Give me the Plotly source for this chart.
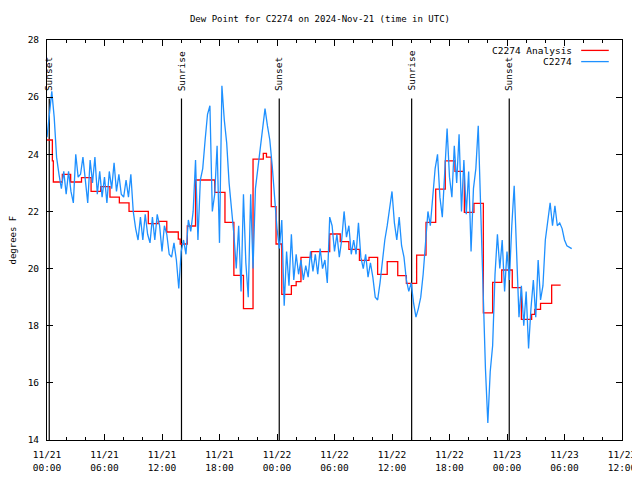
import pandas as pd
import plotly.graph_objects as go

title_text = "Dew Point for C2274 on 2024-Nov-21 (time in UTC)"
start = pd.Timestamp("2024-11-21 00:00")

blue_vals = [
    24.6, 25.5, 26.2, 25.3,  23.9, 23.3, 22.8, 23.4,  22.6, 23.4, 22.7, 22.3,
    24.0, 23.2, 23.3, 23.9,  23.0, 22.3, 23.8, 23.0,  23.9, 22.6, 23.4, 22.5,
    23.2, 22.3, 23.4, 22.8,  23.7, 22.7, 23.3, 22.6,  22.5, 23.1, 22.5, 23.3,
    22.0, 21.4, 21.0, 21.8,  21.0, 21.9, 21.2, 20.9,  21.8, 21.0, 21.9, 21.5,
    20.6, 21.5, 21.2, 20.5,  20.4, 20.9, 20.3, 19.3,  20.6, 21.0, 20.5, 21.7,
    21.3, 22.0, 23.8, 21.0,  23.1, 23.5, 24.5, 25.4,  25.7, 22.0, 22.6, 24.3,
    20.9, 26.4, 25.2, 24.4,  23.0, 22.2, 21.2, 20.0,  21.5, 19.2, 22.6, 20.2,
    19.0, 22.6, 20.0, 22.8,  23.5, 24.2, 24.9, 25.6,  25.0, 24.5, 23.6, 22.4,
    21.4, 20.7, 21.7, 18.7,  20.6, 19.4, 21.2, 19.6,  20.5, 19.8, 20.3, 19.6,
    20.1, 19.7, 20.6, 19.9,  20.5, 19.8, 20.7, 20.0,  20.3, 19.5, 21.8, 21.5,
    20.6, 21.2, 20.4, 21.0,  22.0, 21.1, 21.5, 20.5,  21.0, 20.5, 21.6, 20.4,
    20.0, 20.5, 19.7, 20.2,  19.7, 19.0, 18.9, 19.5,  20.3, 21.0, 21.5, 22.2,
    22.7, 21.6, 21.0, 21.8,  20.8, 20.4, 19.6, 19.2,  19.5, 18.8, 18.3, 18.6,
    19.0, 19.8, 21.0, 22.0,  21.5, 22.6, 23.5, 24.0,  22.5, 21.8, 23.5, 24.9,
    23.2, 22.5, 24.3, 23.0,  24.7, 22.0, 23.8, 21.9,  23.4, 20.6, 22.8, 23.5,
    25.0, 22.0, 19.8, 16.5,  14.6, 16.4, 17.3, 19.8,  21.2, 20.0, 21.0, 19.2,
    20.6, 19.6, 21.5, 22.9,  20.6, 18.3, 19.4, 18.0,  19.2, 17.2, 18.6, 19.6,
    18.3, 20.3, 18.9, 19.4,  21.0, 21.6, 22.3, 21.5,  22.2, 21.5, 21.6, 21.4,
    21.0, 20.8, 20.75, 20.7,
]

# Analysis (step changes): hours after 11/21 00:00 and values
red_hours = [0.0, 0.56, 0.66, 1.6, 2.47, 3.6, 4.6, 5.6, 6.57, 7.55, 8.56, 10.57,
             11.6, 12.5, 13.7, 13.9, 14.64, 15.5, 17.5, 18.57, 19.5, 20.5, 21.5,
             22.57, 22.9, 23.4, 23.9, 24.5, 25.5, 26.0, 26.5, 27.6, 29.5, 30.6,
             31.5, 32.6, 33.6, 34.5, 35.5, 36.6, 37.5, 38.57, 39.55, 40.56, 41.56,
             42.57, 43.55, 44.55, 45.53, 46.5, 47.45, 48.55, 49.5, 50.57, 50.9,
             51.5, 52.66, 53.6]
red_vals = [24.5, 23.77, 23.03, 23.3, 23.03, 23.18, 22.7, 22.87, 22.5, 22.3, 22.0, 21.57,
            21.65, 21.28, 21.03, 20.86, 21.49, 23.1, 22.67, 21.62, 19.76, 18.6, 23.83,
            24.03, 23.9, 22.17, 20.86, 19.1, 19.4, 19.54, 20.39, 20.59, 21.21, 20.94,
            20.67, 20.29, 20.39, 19.8, 20.24, 19.75, 19.48, 20.47, 21.62, 22.78, 23.77,
            23.4, 21.97, 22.28, 18.45, 19.52, 19.95, 19.33, 18.22, 18.4, 18.57,
            18.78, 19.42, 19.42]

# Sunrise / sunset markers
sun_times = ["2024-11-21 00:14", "2024-11-21 14:02", "2024-11-22 00:14",
             "2024-11-22 14:03", "2024-11-23 00:14"]
sun_labels = ["Sunset", "Sunrise", "Sunset", "Sunrise", "Sunset"]

x_tickvals = ["2024-11-21 00:00", "2024-11-21 06:00", "2024-11-21 12:00", "2024-11-21 18:00",
              "2024-11-22 00:00", "2024-11-22 06:00", "2024-11-22 12:00", "2024-11-22 18:00",
              "2024-11-23 00:00", "2024-11-23 06:00", "2024-11-23 12:00"]
x_ticktext = ["11/21<br>00:00", "11/21<br>06:00", "11/21<br>12:00", "11/21<br>18:00",
              "11/22<br>00:00", "11/22<br>06:00", "11/22<br>12:00", "11/22<br>18:00",
              "11/23<br>00:00", "11/23<br>06:00", "11/23<br>12:00"]
y_tickvals = [14, 16, 18, 20, 22, 24, 26, 28]

legend_names = ["C2274 Analysis", "C2274"]
RED = "#ff0000"
BLUE = "#1e90ff"
FONT = "DejaVu Sans Mono"

blue_times = pd.date_range(start, periods=len(blue_vals), freq="15min")
red_times = [start + pd.Timedelta(hours=h) for h in red_hours]

fig = go.Figure()
for t in sun_times:
    fig.add_trace(go.Scatter(x=[t, t], y=[14, 25.95], mode="lines",
                             line=dict(color="black", width=1.2),
                             hoverinfo="skip", showlegend=False))
fig.add_trace(go.Scatter(x=red_times, y=red_vals, mode="lines", line_shape="hv",
                         line=dict(color=RED, width=1.3), name=legend_names[0]))
fig.add_trace(go.Scatter(x=blue_times, y=blue_vals, mode="lines",
                         line=dict(color=BLUE, width=1.3), name=legend_names[1]))

for t, lab in zip(sun_times, sun_labels):
    fig.add_annotation(x=t, y=26.15, xref="x", yref="y", text=lab, textangle=-90,
                       showarrow=False, xanchor="center", yanchor="bottom",
                       font=dict(family=FONT, size=9.5, color="black"))

# legend drawn gnuplot-style (text, then sample to its right)
leg_y = [0.974, 0.946]
for name, col, yy in zip(legend_names, [RED, BLUE], leg_y):
    fig.add_annotation(x=0.9165, y=yy, xref="paper", yref="paper", text=name,
                       showarrow=False, xanchor="right", yanchor="middle",
                       font=dict(family=FONT, size=9.5, color="black"))
    fig.add_shape(type="line", xref="paper", yref="paper", x0=0.929, x1=0.977,
                  y0=yy, y1=yy, line=dict(color=col, width=1.3))

fig.add_annotation(x=-0.0600, y=0.5, xref="paper", yref="paper", text="degrees F",
                   textangle=-90, showarrow=False, xanchor="center", yanchor="middle",
                   font=dict(family=FONT, size=9, color="black"))

# page body has an 8px margin: figure is sized/offset to compensate
W, H = 632, 472
fig.update_layout(
    width=W, height=H,
    margin=dict(l=39, r=18, t=32, b=40),
    plot_bgcolor="white", paper_bgcolor="white",
    showlegend=False,
    font=dict(family=FONT, size=9, color="black"),
    title=dict(text=title_text, x=312 / W, xref="container", xanchor="center",
               y=1 - 11 / H, yref="container", yanchor="middle",
               font=dict(family=FONT, size=9, color="black")),
)
fig.update_xaxes(type="date", range=["2024-11-21 00:00", "2024-11-23 12:00"],
                 tickvals=x_tickvals, ticktext=x_ticktext,
                 ticks="inside", ticklen=6, tickcolor="black", tickwidth=1,
                 minor=dict(dtick=2 * 3600 * 1000, ticks="inside", ticklen=3,
                            tickcolor="black", showgrid=False),
                 showline=True, linecolor="black", linewidth=1, mirror="ticks",
                 showgrid=False, zeroline=False, automargin=False,
                 ticklabelstandoff=6,
                 tickfont=dict(family=FONT, size=9.5, color="black"))
fig.update_yaxes(range=[14, 28], tickvals=y_tickvals,
                 ticks="inside", ticklen=6, tickcolor="black", tickwidth=1,
                 showline=True, linecolor="black", linewidth=1, mirror="ticks",
                 showgrid=False, zeroline=False, automargin=False,
                 ticklabelstandoff=5,
                 tickfont=dict(family=FONT, size=9.5, color="black"))

fig.write_html("out.html")
